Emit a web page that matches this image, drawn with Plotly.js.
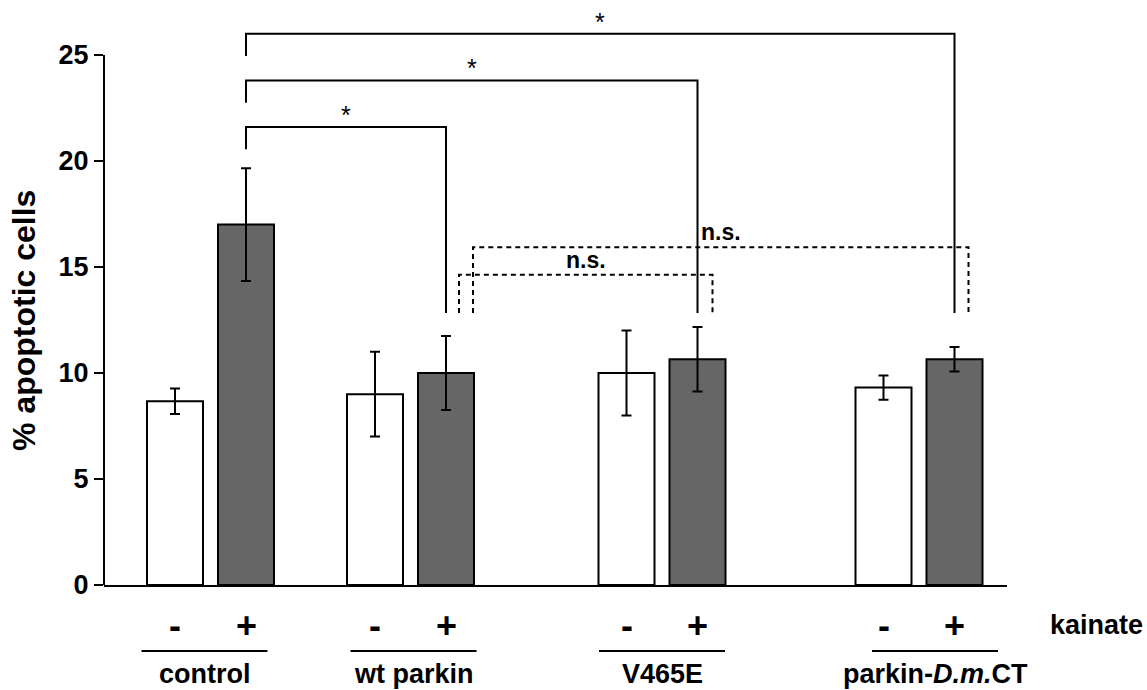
<!DOCTYPE html>
<html>
<head>
<meta charset="utf-8">
<script src="https://cdn.plot.ly/plotly-3.0.1.min.js"></script>
<style>html,body{margin:0;padding:0;background:#fff;}#chart{width:1147px;height:690px;}</style>
</head>
<body>
<div id="chart"></div>
<script>
// ---- data ----
const groups = ['control', 'wt parkin', 'V465E', 'parkin-<i>D.m.</i>CT'];
const treatments = ['-', '+'];
const minusVals = [8.67, 9.0, 10.0, 9.31];
const minusErr = [0.6, 2.0, 2.0, 0.57];
const plusVals = [17.0, 10.0, 10.65, 10.65];
const plusErr = [2.66, 1.75, 1.52, 0.58];
const yTicks = [0, 5, 10, 15, 20, 25];
const yTitle = '% apoptotic cells';
const sideLabel = 'kainate';
// significance comparisons: control(+) vs group(+)
const sigGroups = [1, 2, 3];
const sigTops = [21.6, 23.8, 26.0];
const sigText = ['*', '*', '*'];
// n.s. comparisons: wt parkin(+) vs group(+)
const nsGroups = [2, 3];
const nsTops = [14.63, 15.93];
const nsText = ['n.s.', 'n.s.'];
const legBottom = 12.83;

// ---- layout constants ----
const groupCenter = [106.5, 306.5, 558, 815];
const half = 35.5;
const barW = 56;
const labelShift = [-6, 3, 0, 16];
const nsLeftOff = [13, 27];
const nsRightOff = [15, 14];
const legDrop = 1.05;
const yMax = 26.65;
const FONT = 'Liberation Sans, Arial, sans-serif';

const xMinus = groupCenter.map(c => c - half);
const xPlus = groupCenter.map(c => c + half);

const traces = [];
traces.push({
  type: 'bar', x: xMinus, y: minusVals, width: barW,
  marker: {color: '#ffffff', line: {color: '#000', width: 2}},
  error_y: {type: 'data', array: minusErr, visible: true, color: '#000', thickness: 2, width: 5},
  hoverinfo: 'skip', showlegend: false
});
traces.push({
  type: 'bar', x: xPlus, y: plusVals, width: barW,
  marker: {color: '#666666', line: {color: '#000', width: 2}},
  error_y: {type: 'data', array: plusErr, visible: true, color: '#000', thickness: 2, width: 5},
  hoverinfo: 'skip', showlegend: false
});

const annotations = [];
const shapes = [];

// significance brackets
sigGroups.forEach((g, i) => {
  const xa = xPlus[0], xb = xPlus[g];
  traces.push({
    type: 'scatter', mode: 'lines', x: [xa, xa, xb, xb],
    y: [sigTops[i] - legDrop, sigTops[i], sigTops[i], legBottom],
    line: {color: '#000', width: 2}, hoverinfo: 'skip', showlegend: false
  });
  annotations.push({
    x: (xa + xb) / 2, y: sigTops[i], xref: 'x', yref: 'y', text: sigText[i],
    showarrow: false, yanchor: 'bottom', yshift: -4,
    font: {family: FONT, size: 25, color: '#000'}
  });
});
nsGroups.forEach((g, i) => {
  const xa = xPlus[1] + nsLeftOff[i], xb = xPlus[g] + nsRightOff[i];
  traces.push({
    type: 'scatter', mode: 'lines', x: [xa, xa, xb, xb],
    y: [legBottom, nsTops[i], nsTops[i], legBottom],
    line: {color: '#000', width: 2, dash: '5px,4px'}, hoverinfo: 'skip', showlegend: false
  });
  annotations.push({
    x: (xa + xb) / 2, y: nsTops[i], xref: 'x', yref: 'y', text: nsText[i],
    showarrow: false, yanchor: 'bottom', yshift: 0,
    font: {family: FONT, size: 23, color: '#000', weight: 'bold'}
  });
});

// treatment labels
groupCenter.forEach((c, gi) => {
  [xMinus[gi], xPlus[gi]].forEach((xx, ti) => {
    annotations.push({
      x: xx, y: -0.071, xref: 'x', yref: 'paper', text: treatments[ti],
      showarrow: false, xanchor: 'center', yanchor: 'middle',
      font: {family: FONT, size: 36, color: '#000', weight: 'bold'}
    });
  });
  const lc = c + labelShift[gi];
  shapes.push({
    type: 'line', xref: 'x', yref: 'paper', x0: lc - 63, x1: lc + 63,
    y0: -0.117, y1: -0.117, line: {color: '#000', width: 2}
  });
  annotations.push({
    x: lc, y: -0.158, xref: 'x', yref: 'paper', text: groups[gi],
    showarrow: false, xanchor: 'center', yanchor: 'middle',
    font: {family: FONT, size: 27, color: '#000', weight: 'bold'}
  });
});
annotations.push({
  x: 1.0986, y: -0.071, xref: 'paper', yref: 'paper', text: sideLabel,
  showarrow: false, xanchor: 'center', yanchor: 'middle',
  font: {family: FONT, size: 27, color: '#000', weight: 'bold'}
});
annotations.push({
  x: -0.0886, y: 12.5, xref: 'paper', yref: 'y', text: yTitle, textangle: -90,
  showarrow: false, xanchor: 'center', yanchor: 'middle',
  font: {family: FONT, size: 32, color: '#000', weight: 'bold'}
});

// y axis line from 0 to 25 only
shapes.push({
  type: 'line', xref: 'paper', yref: 'paper', x0: 0, x1: 0, y0: 0, y1: 25 / yMax,
  line: {color: '#000', width: 2}
});

const layout = {
  width: 1147, height: 690,
  margin: {l: 104, r: 140, t: 20, b: 105},
  paper_bgcolor: '#fff', plot_bgcolor: '#fff',
  bargap: 0,
  xaxis: {range: [0, 903], showline: true, linewidth: 2, linecolor: '#000',
    showticklabels: false, ticks: '', showgrid: false, zeroline: false, fixedrange: true},
  yaxis: {range: [0, yMax], showline: false, showgrid: false, zeroline: false,
    tickvals: yTicks, ticktext: yTicks.map(String), ticks: 'outside', ticklen: 9, tickwidth: 2, tickcolor: '#000',
    tickfont: {family: FONT, size: 27, color: '#000', weight: 'bold'}, fixedrange: true},
  annotations: annotations,
  shapes: shapes
};

Plotly.newPlot('chart', traces, layout, {displayModeBar: false, staticPlot: true});
</script>
</body>
</html>
